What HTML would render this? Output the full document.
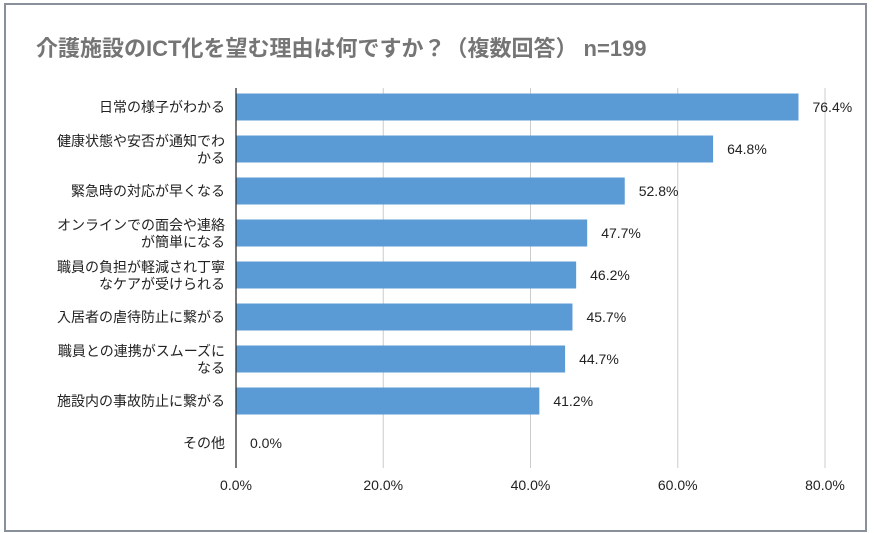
<!DOCTYPE html>
<html><head><meta charset="utf-8"><style>
body{margin:0;background:#fff;font-family:"Liberation Sans","Noto Sans CJK JP",sans-serif;}
#wrap{position:relative;width:874px;height:533px;overflow:hidden;}
</style></head><body>
<div id="wrap">
<svg id="chart" width="874" height="533">
<rect x="5" y="4" width="861" height="527" fill="#fff" stroke="#8a9099" stroke-width="2"/>
<text x="36" y="56" font-size="22" font-weight="bold" fill="#757575" font-family="Liberation Sans, Noto Sans CJK JP, sans-serif">介護施設のICT化を望む理由は何ですか？（複数回答）  n=199</text>
</svg>
</div>
<script>
const categories=[["日常の様子がわかる"],["健康状態や安否が通知でわ","かる"],["緊急時の対応が早くなる"],["オンラインでの面会や連絡","が簡単になる"],["職員の負担が軽減され丁寧","なケアが受けられる"],["入居者の虐待防止に繋がる"],["職員との連携がスムーズに","なる"],["施設内の事故防止に繋がる"],["その他"]];
const values=[76.4,64.8,52.8,47.7,46.2,45.7,44.7,41.2,0.0];
const ticks=[0,20,40,60,80];
const tickLabels=["0.0%","20.0%","40.0%","60.0%","80.0%"];
const svg=document.getElementById('chart');
const NS='http://www.w3.org/2000/svg';
const x0=236,x1=825,maxV=80;
const xs=v=>x0+(v/maxV)*(x1-x0);
const rowY=i=>107+i*42;
function mk(tag,attrs){const e=document.createElementNS(NS,tag);for(const k in attrs)e.setAttribute(k,attrs[k]);svg.appendChild(e);return e;}
ticks.forEach((t,i)=>{
  if(i>0){const g=mk('line',{x1:xs(t),x2:xs(t),y1:88,y2:468,stroke:'#ccc','stroke-width':1});
  
  }
  const tl=mk('text',{x:xs(t),y:490,'text-anchor':'middle','font-size':14,fill:'#222'});
  tl.textContent=tickLabels[i];
  
  
});
values.forEach((v,i)=>{
  const cy=rowY(i);
  const b=mk('rect',{x:x0,y:cy-13.5,width:xs(v)-x0,height:27,fill:'#5b9bd5'});
  
  
  const vl=mk('text',{x:xs(v)+14,y:cy+5,'font-size':14,fill:'#222'});
  vl.textContent=v.toFixed(1)+'%';
  
  
  const lines=categories[i];
  lines.forEach((s,j)=>{
    const ty=lines.length===1?cy+5:cy-3+j*17;
    const c=mk('text',{x:225,y:ty,'text-anchor':'end','font-size':14,fill:'#222'});
    c.textContent=s;
    
    
  });
});
const ax=mk('line',{x1:x0,x2:x0,y1:88,y2:468,stroke:'#333','stroke-width':1.3});


</script>
</body></html>
